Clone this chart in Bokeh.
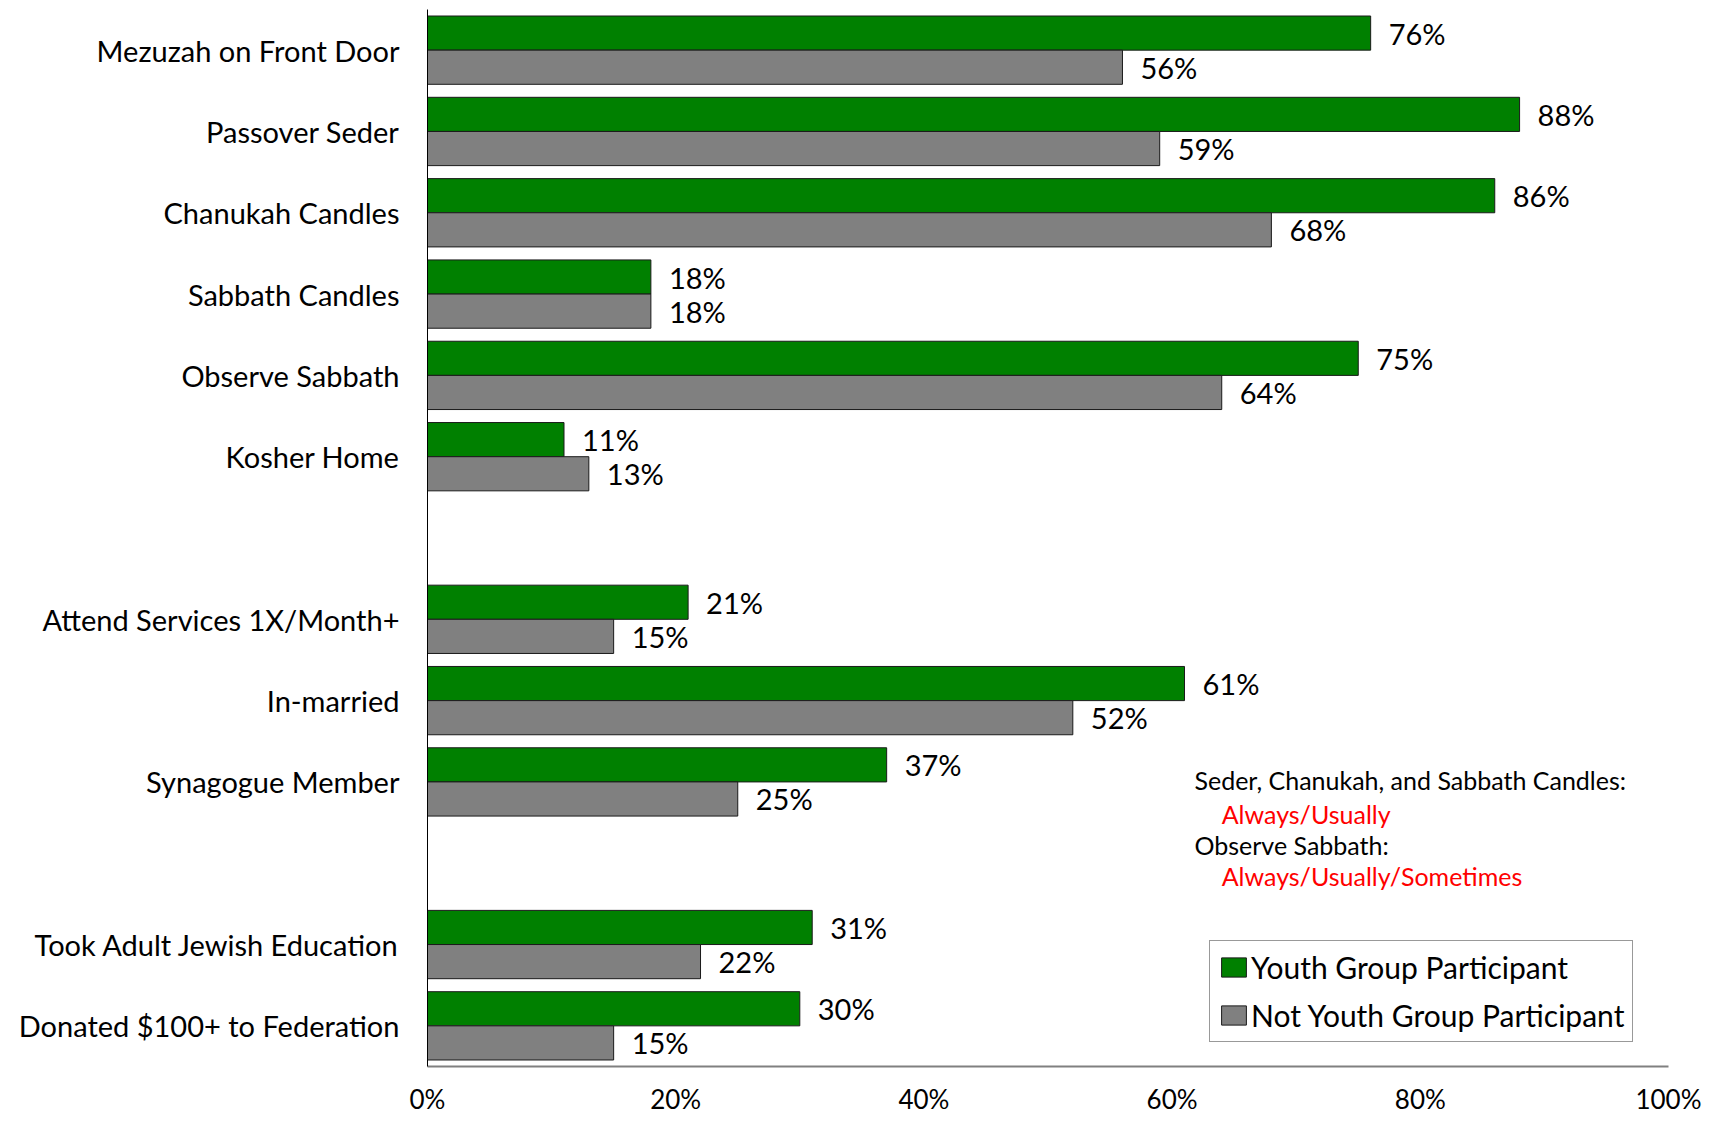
from bokeh.plotting import figure
from bokeh.models import (ColumnDataSource, FactorRange, Range1d, FixedTicker, PrintfTickFormatter,
                          Legend, LegendItem, Label)
from bokeh.transform import dodge
from bokeh.core.properties import value
from bokeh.embed import file_html
from bokeh.resources import INLINE

categories = ["Mezuzah on Front Door", "Passover Seder", "Chanukah Candles", "Sabbath Candles",
              "Observe Sabbath", "Kosher Home", "Attend Services 1X/Month+", "In-married",
              "Synagogue Member", "Took Adult Jewish Education", "Donated $100+ to Federation"]
youth = [76, 88, 86, 18, 75, 11, 21, 61, 37, 31, 30]
not_youth = [56, 59, 68, 18, 64, 13, 15, 52, 25, 22, 15]
x_ticks = [0, 20, 40, 60, 80, 100]
series_names = ["Youth Group Participant", "Not Youth Group Participant"]
note_lines = ["Seder, Chanukah, and Sabbath Candles:", "Always/Usually",
              "Observe Sabbath:", "Always/Usually/Sometimes"]

# slot order top->bottom with two blank gaps
slots = categories[:6] + [" "] + categories[6:9] + ["  "] + categories[9:]
factors = list(reversed(slots))

FONT = "Lato"
GREEN = "#008000"
GRAY = "#808080"

src = ColumnDataSource(dict(
    cat=categories, youth=youth, not_youth=not_youth,
    ylab=[f"{v}%" for v in youth], nlab=[f"{v}%" for v in not_youth]))

p = figure(width=1712, height=1122, output_backend="svg", toolbar_location=None,
           y_range=FactorRange(factors=factors, range_padding=0),
           x_range=Range1d(0, 100),
           min_border_left=427, min_border_right=44, min_border_top=9, min_border_bottom=56)
p.outline_line_color = None
p.xgrid.grid_line_color = None
p.ygrid.grid_line_color = None

r1 = p.hbar(y=dodge("cat", 0.21, range=p.y_range), right="youth", left=0, height=0.42,
            source=src, fill_color=GREEN, line_color="#1a1a1a", line_width=1)
r2 = p.hbar(y=dodge("cat", -0.21, range=p.y_range), right="not_youth", left=0, height=0.42,
            source=src, fill_color=GRAY, line_color="#1a1a1a", line_width=1)

p.text(x="youth", y=dodge("cat", 0.21, range=p.y_range), text="ylab", source=src,
       x_offset=18, text_baseline="middle", text_font=value(FONT), text_font_size="29px",
       text_color="black")
p.text(x="not_youth", y=dodge("cat", -0.21, range=p.y_range), text="nlab", source=src,
       x_offset=18, text_baseline="middle", text_font=value(FONT), text_font_size="29px",
       text_color="black")

ya = p.yaxis[0]
ya.major_tick_line_color = None
ya.minor_tick_line_color = None
ya.axis_line_color = "black"
ya.axis_line_width = 1
ya.major_label_text_font = FONT
ya.major_label_text_font_size = "29px"
ya.major_label_text_color = "black"
ya.major_label_standoff = 22

xa = p.xaxis[0]
xa.ticker = FixedTicker(ticks=x_ticks)
xa.formatter = PrintfTickFormatter(format="%d%%")
xa.major_tick_line_color = None
xa.minor_tick_line_color = None
xa.axis_line_color = GRAY
xa.axis_line_width = 2
xa.major_label_text_font = FONT
xa.major_label_text_font_size = "26px"
xa.major_label_text_color = "black"
xa.major_label_standoff = 10

legend = Legend(items=[LegendItem(label=series_names[0], renderers=[r1]),
                       LegendItem(label=series_names[1], renderers=[r2])],
                location=(782, 24), orientation="vertical",
                label_text_font=FONT, label_text_font_size="30px", label_text_color="black",
                glyph_width=31, glyph_height=24, label_standoff=2, label_height=36,
                padding=8, spacing=12, margin=0,
                border_line_color="#333333", border_line_width=1,
                background_fill_color="white", background_fill_alpha=1)
p.add_layout(legend, "center")

note_x = [61.8, 64.0, 61.8, 64.0]
note_y = [3.52, 3.11, 2.73, 2.34]
note_c = ["black", "red", "black", "red"]
for t, nx, ny, c in zip(note_lines, note_x, note_y, note_c):
    p.add_layout(Label(x=nx, y=ny, text=t, text_font=FONT, text_font_size="25px",
                       text_color=c, text_baseline="middle"))

open("out.html", "w").write(file_html(p, INLINE))
